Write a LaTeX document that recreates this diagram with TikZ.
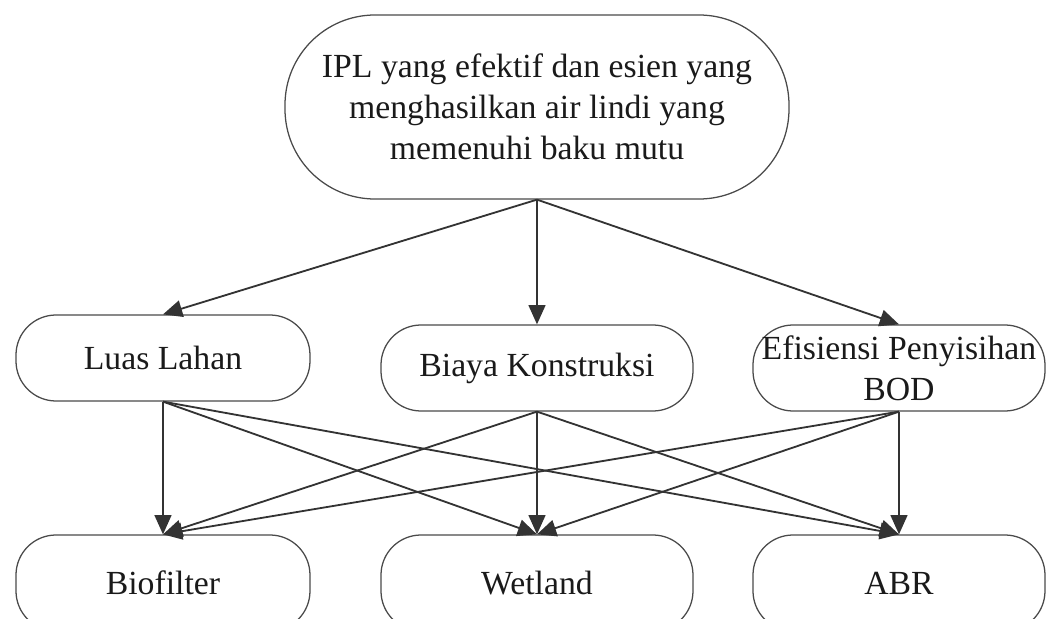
\documentclass[tikz,border=0pt]{standalone}
\usepackage{fontspec}
\setmainfont{Liberation Serif}
\usetikzlibrary{arrows.meta,positioning}
\definecolor{EdgeGray}{HTML}{333333}
\definecolor{BoxGray}{HTML}{4A4A4A}
\definecolor{TextBlack}{HTML}{1A1A1A}
\tikzset{
    goal/.style = {draw=BoxGray, rectangle, rounded corners=2.25cm, line width=0.9pt,
        minimum height=4.6cm, minimum width=12.6cm, align=center},
    crit/.style = {draw=BoxGray, rectangle, rounded corners=1cm, line width=0.9pt,
        minimum height=2.15cm, minimum width=7.35cm, inner sep=1mm, align=center},
    alt/.style = {crit, minimum height=2.4cm},
    arrow/.style = {draw=EdgeGray, line width=1.3pt, -{Triangle[length=4.8mm,width=4.2mm]}}
}
\begin{document}
\begin{tikzpicture}[node distance=2cm, every node/.style={text=TextBlack, font=\fontsize{24pt}{29pt}\selectfont}]
        \useasboundingbox (-13.425,-12.8) rectangle (12.975,2.675);
        \node [goal, name=goal] {IPL yang efektif dan esien yang\\menghasilkan air lindi yang\\memenuhi baku mutu};
        % criteria row
        \node [crit, below of=goal, node distance=6.525cm, minimum width=7.8cm] (crit2) {Biaya Konstruksi};
        \node [crit, left of=crit2, node distance=9.35cm, yshift=0.25cm] (crit1) {Luas Lahan};
        \node [crit, right of=crit2, node distance=9.05cm, minimum width=7.3cm] (crit3) {Efisiensi Penyisihan\\BOD};
        % alternatives row
        \node [alt, below of=crit2, node distance=5.375cm, minimum width=7.8cm] (alt2) {Wetland};
        \node [alt, left of=alt2, node distance=9.35cm] (alt1) {Biofilter};
        \node [alt, right of=alt2, node distance=9.05cm, minimum width=7.3cm] (alt3) {ABR};
        \foreach \a in {1,2,3}{
            \draw [arrow] (goal.south) -- (crit\a.north);
            \foreach \b in {1,2,3}{
                \draw [arrow] (crit\a.south) -- (alt\b.north);
            }
        }
\end{tikzpicture}
\end{document}
